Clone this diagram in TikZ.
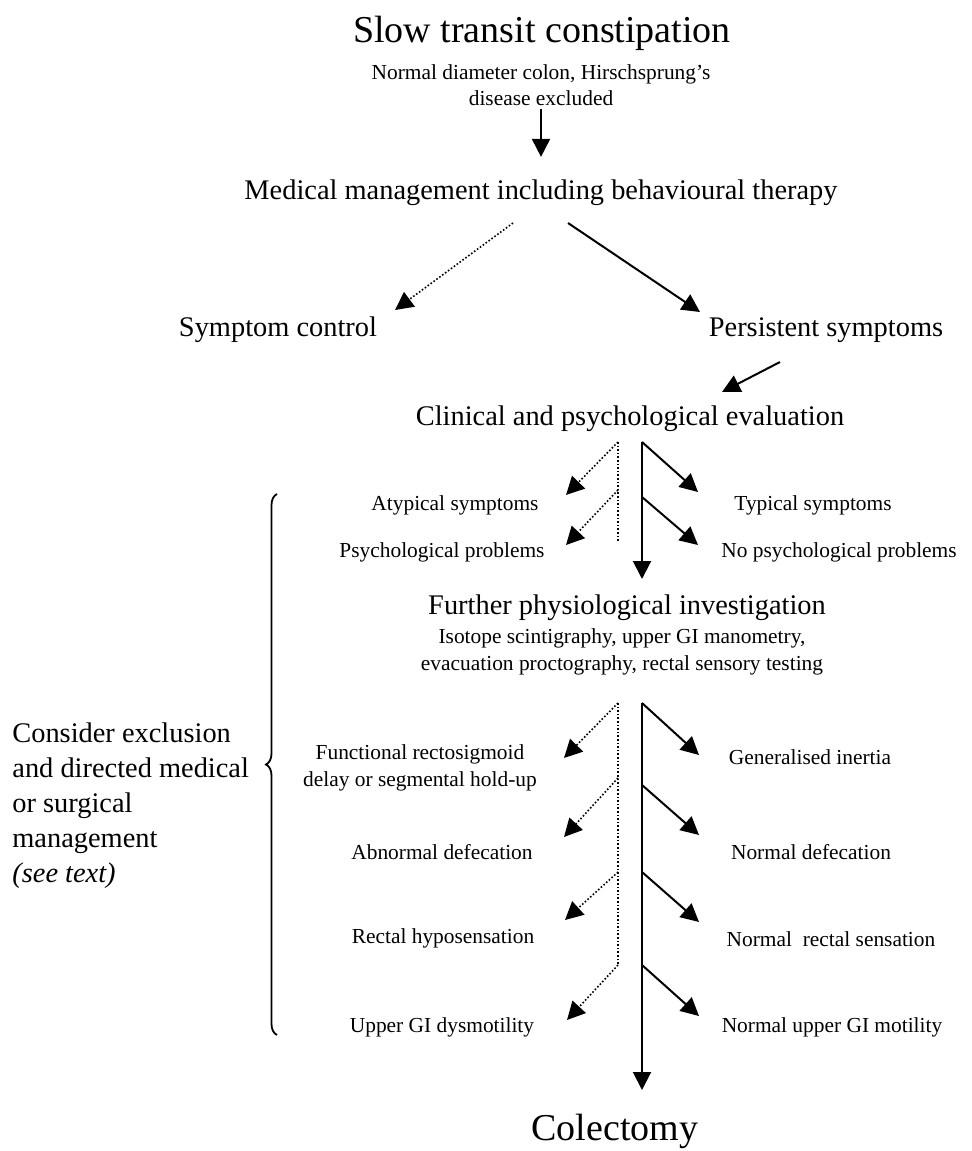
\documentclass[tikz,border=0pt]{standalone}
\usepackage{fontspec}
\setmainfont{Liberation Serif}
\usetikzlibrary{arrows.meta, decorations.pathreplacing}

\begin{document}
\begin{tikzpicture}[
  x=0.5pt, y=-0.5pt,
  bigt/.style={font=\fontsize{19}{23}\selectfont, inner sep=0pt, anchor=base},
  medt/.style={font=\fontsize{14.2}{17.5}\selectfont, inner sep=0pt, anchor=base},
  smallt/.style={font=\fontsize{10.7}{13.3}\selectfont, inner sep=0pt, anchor=base},
  arr/.style={-{Triangle[length=9pt,width=9pt]}, line width=1pt},
  dotarr/.style={-{Triangle[length=9pt,width=9pt]}, line width=0.8pt, densely dotted},
  dotln/.style={line width=0.8pt, densely dotted},
]
\useasboundingbox (0,0) rectangle (971,1151);

% Top: condition
\node[bigt] (title) at (542,42) {Slow transit constipation};
\node[smallt, anchor=center, align=center] (sub) at (541,85)
  {Normal diameter colon, Hirschsprung's\\disease excluded};
\node[medt] (med) at (541,199) {Medical management including behavioural therapy};

% Outcome of medical management
\node[medt] (sym) at (278,336) {Symptom control};
\node[medt] (per) at (826,336) {Persistent symptoms};
\node[medt] (cli) at (630,425) {Clinical and psychological evaluation};

% First evaluation split
\node[smallt] (aty) at (455,510) {Atypical symptoms};
\node[smallt] (psy) at (442,557) {Psychological problems};
\node[smallt] (typ) at (813,510) {Typical symptoms};
\node[smallt] (nps) at (839,557) {No psychological problems};

% Investigations
\node[medt] (fur) at (627,614) {Further physiological investigation};
\node[smallt, anchor=center, align=center] (iso) at (622,652)
  {Isotope scintigraphy, upper GI manometry,\\evacuation proctography, rectal sensory testing};

% Second split
\node[smallt, anchor=center, align=center] (fun) at (420,768)
  {Functional rectosigmoid\\delay or segmental hold-up};
\node[smallt] (gen) at (810,764) {Generalised inertia};
\node[smallt] (abd) at (442,859) {Abnormal defecation};
\node[smallt] (nde) at (811,859) {Normal defecation};
\node[smallt] (rhy) at (443,943) {Rectal hyposensation};
\node[smallt] (nrs) at (831,946) {Normal\ \ rectal sensation};
\node[smallt] (ugi) at (442,1032) {Upper GI dysmotility};
\node[smallt] (nug) at (832,1032) {Normal upper GI motility};

% End point
\node[bigt] (col) at (615,1140) {Colectomy};

% Side note with brace
\node[medt, anchor=west, align=left] (con) at (12,806)
  {Consider exclusion\\and directed medical\\or surgical\\management\\\textit{(see text)}};
\coordinate (brB) at (277,1035);
\coordinate (brT) at (277,494);
\draw[decorate, decoration={brace, amplitude=5.5pt}, line width=0.9pt] (brB) -- (brT);

% Branch points
\coordinate (medL) at (513,223); \coordinate (symT) at (395,310);
\coordinate (medR) at (568,223); \coordinate (perT) at (700,312);
\coordinate (perA) at (780,362); \coordinate (cliT) at (722,392);

\coordinate (d1) at (618,442); \coordinate (d2) at (618,490); \coordinate (d3) at (618,542);
\coordinate (s1) at (642,442); \coordinate (s2) at (642,497); \coordinate (s3) at (642,579);

\coordinate (e1) at (618,703); \coordinate (e2) at (618,778);
\coordinate (e3) at (618,872); \coordinate (e4) at (618,965);
\coordinate (f1) at (642,703); \coordinate (f2) at (642,785);
\coordinate (f3) at (642,872); \coordinate (f4) at (642,965); \coordinate (f5) at (642,1090);

% Arrows
\draw[arr, shorten <=1.5pt, shorten >=11pt] (sub.south) -- (med.north);
\draw[dotarr] (medL) -- (symT);
\draw[arr] (medR) -- (perT);
\draw[arr] (perA) -- (cliT);

% first tree
\draw[dotln] (d1) -- (d3);
\draw[dotarr] (d1) -- (566,495);
\draw[dotarr] (d2) -- (566,545);
\draw[arr] (s1) -- (s3);
\draw[arr] (s1) -- (698,492);
\draw[arr] (s2) -- (698,545);

% second tree
\draw[dotln] (e1) -- (e4);
\draw[dotarr] (e1) -- (564,758);
\draw[dotarr] (e2) -- (564,837);
\draw[dotarr] (e3) -- (565,920);
\draw[dotarr] (e4) -- (567,1020);
\draw[arr] (f1) -- (f5);
\draw[arr] (f1) -- (699,755);
\draw[arr] (f2) -- (699,835);
\draw[arr] (f3) -- (699,922);
\draw[arr] (f4) -- (699,1016);
\end{tikzpicture}
\end{document}
